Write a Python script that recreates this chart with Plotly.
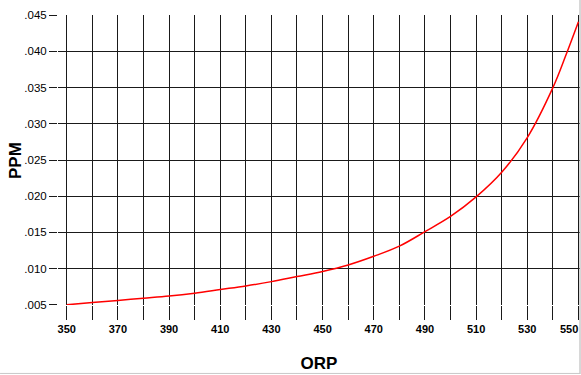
import plotly.graph_objects as go

# Data
orp = [350, 360, 370, 380, 390, 400, 410, 420, 430, 440, 450, 460, 470,
       480, 490, 500, 510, 520, 530, 540, 545, 550]
ppm = [0.0050, 0.0053, 0.0056, 0.0059, 0.0062, 0.0066, 0.0071, 0.0076,
       0.0082, 0.0089, 0.0096, 0.0105, 0.0117, 0.0131, 0.0151, 0.0172,
       0.0199, 0.0233, 0.0281, 0.0350, 0.0394, 0.0441]

x_tick_vals = [350, 360, 370, 380, 390, 400, 410, 420, 430, 440, 450,
               460, 470, 480, 490, 500, 510, 520, 530, 540, 550]
x_tick_text = ["350", "", "370", "", "390", "", "410", "", "430", "", "450",
               "", "470", "", "490", "", "510", "", "530", "", ""]
last_x_label = "550"
y_tick_vals = [0.005, 0.010, 0.015, 0.020, 0.025, 0.030, 0.035, 0.040, 0.045]
y_tick_text = [".005", ".010", ".015", ".020", ".025", ".030", ".035", ".040", ".045"]
x_title = "ORP"
y_title = "PPM"

fig = go.Figure()
fig.add_trace(go.Scatter(
    x=orp, y=ppm, mode="lines",
    line=dict(color="#ff0000", width=1.5, shape="spline", smoothing=1.0),
    hoverinfo="x+y", showlegend=False,
))

grid_color = "#1a1a1a"
label_font = dict(size=11, family="Liberation Sans, Arial, sans-serif", weight="bold", color="black")
fig.update_layout(
    width=581, height=375,
    margin=dict(l=58, r=1, t=15, b=70),
    paper_bgcolor="white", plot_bgcolor="white",
    font=dict(family="Liberation Sans, Arial, sans-serif", color="black"),
    xaxis=dict(
        range=[346.6, 550.6], automargin=False,
        tickmode="array", tickvals=x_tick_vals, ticktext=x_tick_text,
        ticks="outside", ticklen=14, tickwidth=1.4, tickcolor=grid_color,
        showgrid=True, gridcolor=grid_color, gridwidth=1.4,
        zeroline=False, showline=False,
        tickfont=label_font, tickangle=0,
        title=dict(text="<b>" + x_title + "</b>", font=dict(size=17), standoff=22),
    ),
    yaxis=dict(
        range=[0.00497, 0.04503], automargin=False,
        tickmode="array", tickvals=y_tick_vals, ticktext=y_tick_text,
        ticks="outside", ticklen=8, tickwidth=1.4, tickcolor=grid_color,
        showgrid=True, gridcolor=grid_color, gridwidth=1.4,
        zeroline=False, showline=False,
        tickfont=dict(size=11.5, family="Liberation Sans, Arial, sans-serif"),
    ),
    annotations=[
        # last x tick label, kept just inside the right edge
        dict(text=last_x_label, xref="x", x=550.6, xanchor="right",
             yref="paper", y=-0.083, yanchor="middle",
             showarrow=False, font=label_font),
        # y-axis title
        dict(text="<b>" + y_title + "</b>", xref="paper", x=-0.0824, xanchor="center",
             yref="paper", y=0.5, yanchor="middle", textangle=-90,
             showarrow=False, font=dict(size=17, color="black")),
    ],
    shapes=[
        dict(type="line", xref="paper", yref="paper",
             x0=1, x1=1, y0=-0.238, y1=1.052,
             line=dict(color="#b0b0b0", width=1)),
        dict(type="line", xref="paper", yref="paper",
             x0=-0.111, x1=1, y0=-0.236, y1=-0.236,
             line=dict(color="#c8c8c8", width=1)),
    ],
)

# Remove the page's default body margin so the figure sits at the window's origin
fig.write_html(
    "out.html",
    config={"displayModeBar": False},
    post_script="document.body.style.margin='0';document.body.style.overflow='hidden';",
)
